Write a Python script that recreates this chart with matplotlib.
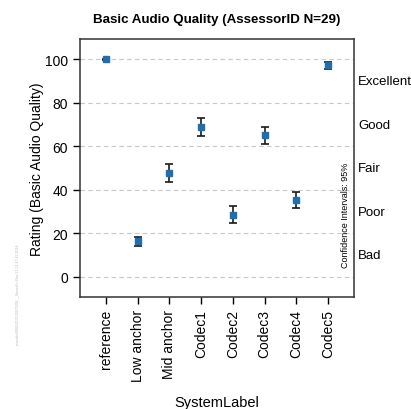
import matplotlib
matplotlib.use('Agg')
from matplotlib import pyplot as plt
import numpy as np

plt.rcParams['font.family'] = ['Liberation Sans', 'DejaVu Sans']

systems = ['reference', 'Low anchor', 'Mid anchor', 'Codec1', 'Codec2',
           'Codec3', 'Codec4', 'Codec5']
means = [100.0, 16.4, 47.8, 68.8, 28.6, 65.0, 35.5, 97.2]
ci_low = [99.6, 14.3, 43.6, 64.8, 24.8, 61.0, 31.8, 95.5]
ci_high = [100.3, 18.5, 52.1, 72.9, 32.4, 68.8, 39.0, 98.9]
grades = ['Bad', 'Poor', 'Fair', 'Good', 'Excellent']
grade_pos = [10, 30, 50, 70, 90]
yticks = [0, 20, 40, 60, 80, 100]

x = np.arange(len(systems))
m = np.array(means)
err = [m - np.array(ci_low), np.array(ci_high) - m]

fig = plt.figure(figsize=(4.11, 4.10), dpi=100)
ax = fig.add_axes([80 / 411, 1 - 298 / 410, 274 / 411, 258 / 410])

for yv in yticks:
    ax.axhline(yv, color='#c8c8c8', lw=0.8, ls=(0, (4, 3)), zorder=0)

ax.errorbar(x, m, yerr=err, fmt='none', ecolor='#1a1a1a', elinewidth=1.2,
            capsize=3, capthick=1.2, zorder=2)
ax.plot(x, m, 's', color='#1f6fb0', ms=5, mec='#1f6fb0', zorder=3)

ax.set_xlim(-0.82, 7.82)
ax.set_ylim(-9.2, 109.3)
ax.set_yticks(yticks)
ax.set_xticks(x)
ax.set_xticklabels(systems, rotation=90, fontsize=10)
ax.tick_params(axis='y', labelsize=10, length=5, width=1)
ax.tick_params(axis='x', length=5, width=1)
for s in ax.spines.values():
    s.set_linewidth(1.1)
    s.set_color('#333333')

ax.set_ylabel('Rating (Basic Audio Quality)', fontsize=10, labelpad=1)
ax.set_xlabel('SystemLabel', fontsize=10.5)
ax.xaxis.set_label_coords(0.5, -(396 - 298) / 258)
ax.set_title('Basic Audio Quality (AssessorID N=29)', fontsize=9.6,
             fontweight='bold', pad=12)

for g, p in zip(grades, grade_pos):
    ax.text(1.015, (p + 9.2) / 118.5, g, transform=ax.transAxes,
            fontsize=9.5, va='center', ha='left', clip_on=False)

ax.text(0.985, (4.7 + 9.2) / 118.5, 'Confidence Intervals: 95%',
        transform=ax.transAxes, rotation=90, fontsize=6.5,
        ha='right', va='bottom')

fig.text(0.045, 0.28, 'jrsaeisfs/8085/213120071091__StereoFri Nov 21 01:47:42 2014',
         rotation=90, fontsize=2.5, color='#bbbbbb', ha='center', va='center')

plt.savefig('out.png', dpi=100)
